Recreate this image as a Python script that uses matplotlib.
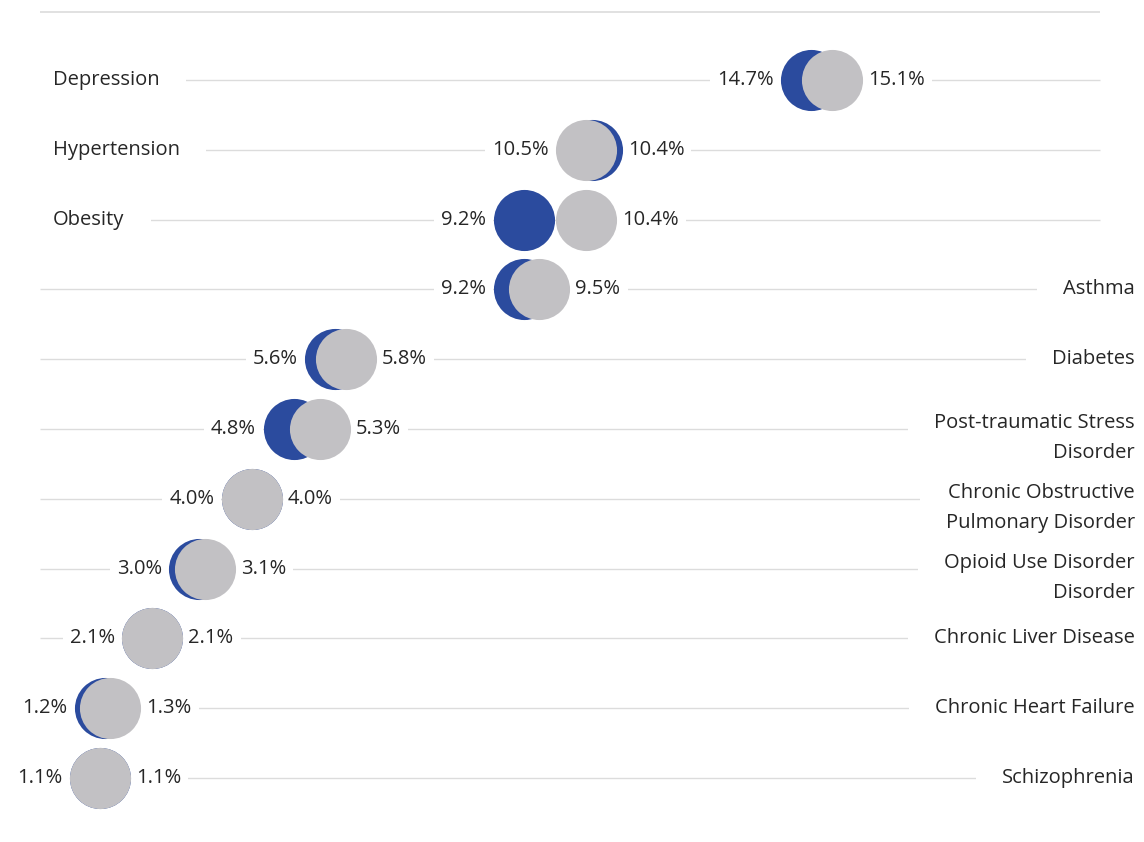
import matplotlib
matplotlib.use("Agg")
import matplotlib.pyplot as plt

# data
conditions = [
    "Depression",
    "Hypertension",
    "Obesity",
    "Asthma",
    "Diabetes",
    "Post-traumatic Stress\nDisorder",
    "Chronic Obstructive\nPulmonary Disorder",
    "Opioid Use Disorder\nDisorder",
    "Chronic Liver Disease",
    "Chronic Heart Failure",
    "Schizophrenia",
]
blue_vals = [14.7, 10.5, 9.2, 9.2, 5.6, 4.8, 4.0, 3.0, 2.1, 1.2, 1.1]
gray_vals = [15.1, 10.4, 10.4, 9.5, 5.8, 5.3, 4.0, 3.1, 2.1, 1.3, 1.1]
label_side = ["left", "left", "left"] + ["right"] * 8

BLUE = "#2b4b9e"
GRAY = "#c2c1c4"
LINE = "#dcdcdc"
TEXT = "#262626"

plt.rcParams["font.family"] = ["Open Sans", "DejaVu Sans"]

fig = plt.figure(figsize=(11.44, 8.42), dpi=100)
ax = fig.add_axes([0, 0, 1, 1])

# x: 0% at px 42.5, 52.3 px per %  |  y: row 0 at px 80, 69.8 px per row
ax.set_xlim(-42.5 / 52.3, (1144 - 42.5) / 52.3)
ax.set_ylim((842 - 80) / 69.8, -80 / 69.8)
ax.axis("off")

x_start = -2.5 / 52.3
x_end = (1100 - 42.5) / 52.3
x_left = (53 - 42.5) / 52.3
x_right = (1135 - 42.5) / 52.3

ax.hlines(-0.97, x_start, x_end, color=LINE, lw=1.2, zorder=0)

radius_pt = 22  # circle radius in points (~30 px)
size = (2 * radius_pt) ** 2
fs = 14.5


def put_label(i, name, color, bbox, z):
    if label_side[i] == "left":
        ax.text(x_left, i, name, ha="left", va="center", fontsize=fs,
                color=color, zorder=z, bbox=bbox)
    elif "\n" in name:
        ax.text(x_right, i - 0.23, name, ha="right", va="top", fontsize=fs,
                color=color, zorder=z, linespacing=1.7, bbox=bbox)
    else:
        ax.text(x_right, i, name, ha="right", va="center", fontsize=fs,
                color=color, zorder=z, bbox=bbox)


for i, name in enumerate(conditions):
    ax.hlines(i, x_start, x_end, color=LINE, lw=1, zorder=0)

    ax.scatter(blue_vals[i], i, s=size, color=BLUE, lw=0, zorder=2)
    ax.scatter(gray_vals[i], i, s=size, color=GRAY, lw=0, zorder=3)

    lo = min(blue_vals[i], gray_vals[i])
    hi = max(blue_vals[i], gray_vals[i])
    ax.annotate(f"{blue_vals[i]:.1f}%", (lo, i), xytext=(-radius_pt - 5, 0),
                textcoords="offset points", ha="right", va="center",
                fontsize=fs, color=TEXT, zorder=1,
                bbox=dict(boxstyle="square,pad=0.35", fc="white", ec="none"))
    ax.annotate(f"{gray_vals[i]:.1f}%", (hi, i), xytext=(radius_pt + 4, 0),
                textcoords="offset points", ha="left", va="center",
                fontsize=fs, color=TEXT, zorder=1,
                bbox=dict(boxstyle="square,pad=0.35", fc="white", ec="none"))

    # white box only, to break the gridline around the label
    put_label(i, name, "white",
              dict(boxstyle="square,pad=1.3", fc="white", ec="none"), 0.5)
    put_label(i, name, TEXT, None, 1)

fig.savefig("out.png", dpi=100, facecolor="white")
